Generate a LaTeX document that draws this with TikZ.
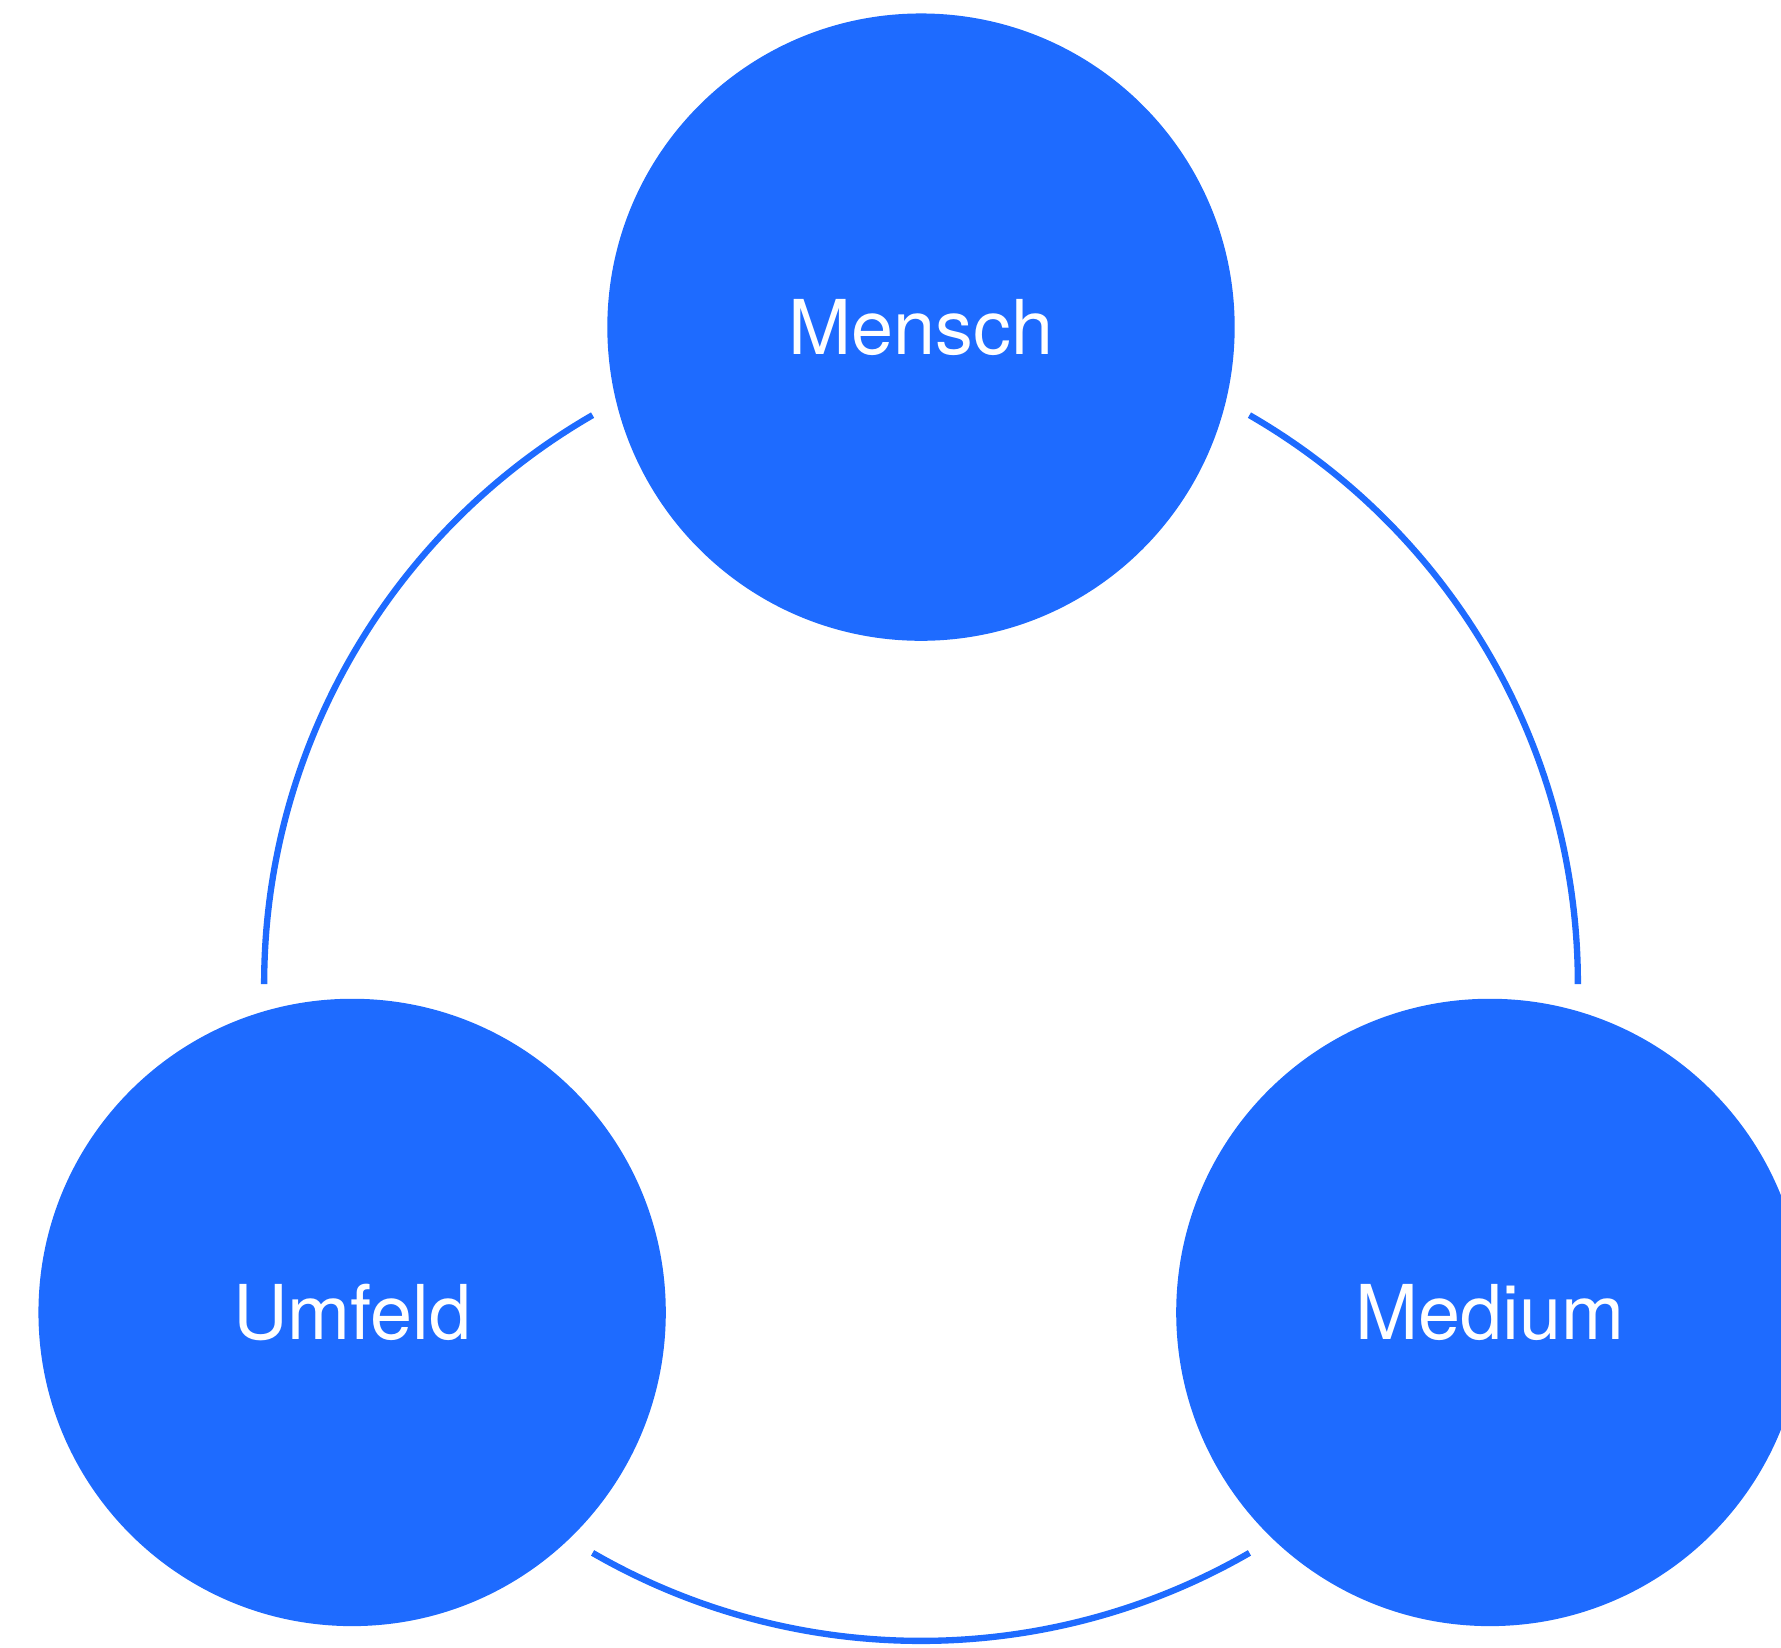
\documentclass[tikz,border=0pt]{standalone}
\usepackage{fontspec}
\setmainfont{TeX Gyre Heros}

\def\ringradius{6.565cm}
\definecolor{nodecolor}{RGB}{30, 107, 255}

\begin{document}
\begin{tikzpicture}[x=0.01cm, y=-0.01cm,
    vertex/.style={fill = nodecolor, circle, text = white, minimum size = 6.27cm, inner sep = 0pt, font=\fontsize{21.5}{25}\selectfont},
    ring/.style={circle, minimum size = 13.13cm, inner sep = 0pt, outer sep = 0pt},
    ringarc/.style={draw, line width = 1.8pt, nodecolor}
    ]

    \useasboundingbox (0, 0) rectangle (1781, 1647);

    % Define the ring that carries the vertices
    \node[ring, name=R] at (921, 984) {};

    % Define vertices
    \foreach [count = \i] \nodename/\nodeangle in {Mensch/90, Umfeld/210, Medium/330} {
        \node[vertex, at=(R.\nodeangle), name=V\i] {\nodename};
    }

    % Define edges
    \foreach \startangle in {0, 120, 240} {
        \draw[ringarc] (R.\startangle) arc[start angle = \startangle, end angle = \startangle + 60, radius = \ringradius];
    }
\end{tikzpicture}
\end{document}
